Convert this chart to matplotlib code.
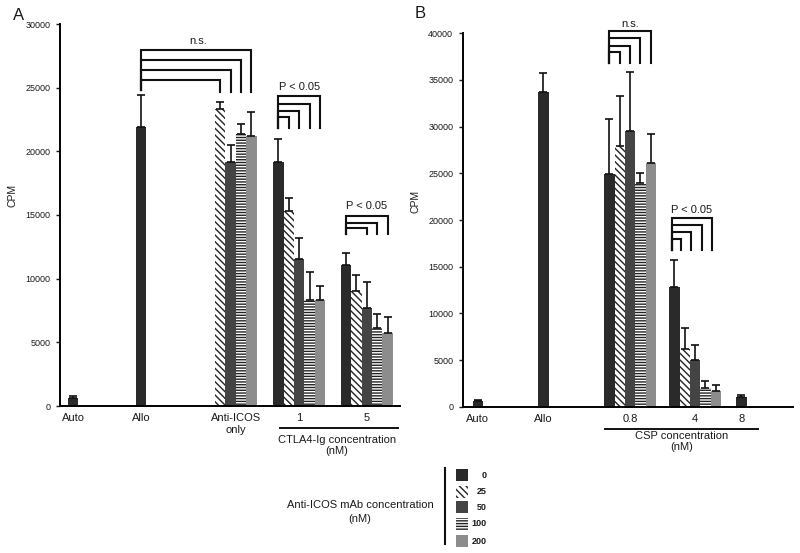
import matplotlib.pyplot as plt
from matplotlib.patches import Rectangle

plt.rcParams['font.family'] = ['Liberation Sans', 'DejaVu Sans']
plt.rcParams['hatch.linewidth'] = 1.0

# anti-ICOS mAb concentrations (nM) -> bar styles
doses = ['0', '25', '50', '100', '200']
fills = ['#2a2a2a', 'white', '#444444', 'white', '#8c8c8c']
hatches = [None, '\\\\\\\\\\', None, '------', None]

# ---- panel A data ----
a_labels = ['Auto', 'Allo', 'Anti-ICOS\nonly', '1', '5']
a_auto = [650]
a_auto_err = [130]
a_allo = [21900]
a_allo_err = [2500]
a_icos = [23300, 19150, 21400, 21200]          # 25, 50, 100, 200
a_icos_err = [550, 1350, 750, 1900]
a_ctla1 = [19200, 15350, 11550, 8300, 8300]     # 0..200
a_ctla1_err = [1800, 950, 1650, 2200, 1100]
a_ctla5 = [11100, 9050, 7700, 6150, 5750]
a_ctla5_err = [900, 1250, 2000, 1050, 1250]

# ---- panel B data ----
b_labels = ['Auto', 'Allo', '0.8', '4', '8']
b_auto = [650]
b_auto_err = [100]
b_allo = [33700]
b_allo_err = [2000]
b_csp08 = [24950, 27900, 29500, 24000, 26150]
b_csp08_err = [5850, 5400, 6350, 1000, 3050]
b_csp4 = [12850, 6150, 5000, 2050, 1700]
b_csp4_err = [2900, 2250, 1650, 700, 650]
b_csp8 = [1000]
b_csp8_err = [230]

TXT = '#1a1a1a'


def draw_group(ax, center, values, errs, idx):
    n = len(values)
    xs = [center + (i - (n - 1) / 2) for i in range(n)]
    for x, v, e, k in zip(xs, values, errs, idx):
        ax.bar(x, v, width=1.0, color=fills[k], hatch=hatches[k],
               edgecolor='#222222', linewidth=0, zorder=2)
        ax.errorbar(x, v, yerr=[[0], [e]], fmt='none', ecolor='#111111',
                    elinewidth=1.2, capsize=2.6, capthick=1.2, zorder=3)
    return xs


def bracket(ax, x0, x1, top, low, low_r=None):
    if low_r is None:
        low_r = low
    ax.plot([x0, x0, x1, x1], [low, top, top, low_r], color='#111111',
            lw=1.5, clip_on=False, solid_joinstyle='miter', zorder=4)


def style(ax, ymax, step, label_x):
    for s in ['top', 'right']:
        ax.spines[s].set_visible(False)
    ax.spines['left'].set_linewidth(1.4)
    ax.spines['bottom'].set_linewidth(1.4)
    ax.spines['left'].set_bounds(0, ymax)
    ax.set_ylim(0, ymax)
    ax.set_yticks(range(0, ymax + 1, step))
    ax.tick_params(axis='y', labelsize=6.5, length=3, width=1, colors=TXT, pad=4)
    ax.tick_params(axis='x', labelsize=8, length=0, pad=5, colors=TXT)
    ax.set_ylabel('CPM', fontsize=7.5, color=TXT)
    ax.yaxis.set_label_coords(label_x, 0.55)


fig = plt.figure(figsize=(8, 5.53), dpi=100)

# ===== panel A =====
axA = fig.add_axes([60 / 800, 147 / 553, 340 / 800, 382 / 553])
a_pos = [1.25, 7.8, 16.9, 23.0, 29.5]
draw_group(axA, a_pos[0], a_auto, a_auto_err, [0])
xs_allo = draw_group(axA, a_pos[1], a_allo, a_allo_err, [0])
xs_icos = draw_group(axA, a_pos[2], a_icos, a_icos_err, [1, 2, 3, 4])
xs_c1 = draw_group(axA, a_pos[3], a_ctla1, a_ctla1_err, [0, 1, 2, 3, 4])
xs_c5 = draw_group(axA, a_pos[4], a_ctla5, a_ctla5_err, [0, 1, 2, 3, 4])
axA.set_xlim(0, 32.7)
style(axA, 30000, 5000, -0.125)
axA.set_xticks(a_pos, a_labels)

# n.s. brackets Allo vs anti-ICOS only
for xe, top in zip(xs_icos, [25620, 26410, 27140, 27930]):
    bracket(axA, xs_allo[0], xe, top, 24840, 24630)
axA.text((xs_allo[0] + xs_icos[-1]) / 2 + 0.2, 28300, 'n.s.', ha='center',
         va='bottom', fontsize=8, color=TXT)
# P < 0.05, CTLA4-Ig 1 nM
for xe, top in zip(xs_c1[1:], [22690, 23190, 23710, 24310]):
    bracket(axA, xs_c1[0], xe, top, 21830)
axA.text(xs_c1[2], 24650, 'P < 0.05', ha='center', va='bottom', fontsize=8, color=TXT)
# P < 0.05, CTLA4-Ig 5 nM
for xe, top in zip(xs_c5[2:], [14010, 14410, 14960]):
    bracket(axA, xs_c5[0], xe, top, 13520)
axA.text(xs_c5[2], 15300, 'P < 0.05', ha='center', va='bottom', fontsize=8, color=TXT)

tr = axA.get_xaxis_transform()
axA.plot([21.2, 32.5], [-0.058, -0.058], color='#111111', lw=1.4,
         transform=tr, clip_on=False)
axA.text(26.6, -0.075, 'CTLA4-Ig concentration\n(nM)', transform=tr, ha='center',
         va='top', fontsize=8, color=TXT, linespacing=1.15)
fig.text(13 / 800, 1 - 16 / 553, 'A', fontsize=12, color=TXT, va='center')

# ===== panel B =====
axB = fig.add_axes([463 / 800, 146.3 / 553, 330 / 800, 373.4 / 553])
b_pos = [1.43, 7.8, 16.2, 22.5, 27.0]
draw_group(axB, b_pos[0], b_auto, b_auto_err, [0])
draw_group(axB, b_pos[1], b_allo, b_allo_err, [0])
xs_08 = draw_group(axB, b_pos[2], b_csp08, b_csp08_err, [0, 1, 2, 3, 4])
xs_4 = draw_group(axB, b_pos[3], b_csp4, b_csp4_err, [0, 1, 2, 3, 4])
draw_group(axB, b_pos[4], b_csp8, b_csp8_err, [0])
axB.set_xlim(0, 32)
style(axB, 40000, 5000, -0.13)
axB.set_xticks(b_pos, b_labels)

for xe, top in zip(xs_08[1:], [37950, 38660, 39450, 40240]):
    bracket(axB, xs_08[0], xe, top, 36780)
axB.text(xs_08[2], 40500, 'n.s.', ha='center', va='bottom', fontsize=8, color=TXT)
for xe, top in zip(xs_4[1:], [17990, 18680, 19430, 20180]):
    bracket(axB, xs_4[0] - 0.2, xe - 0.35, top, 16780)
axB.text(xs_4[2] - 0.3, 20550, 'P < 0.05', ha='center', va='bottom', fontsize=8, color=TXT)

trB = axB.get_xaxis_transform()
axB.plot([13.8, 28.6], [-0.059, -0.059], color='#111111', lw=1.4,
         transform=trB, clip_on=False)
axB.text(21.2, -0.064, 'CSP concentration\n(nM)', transform=trB, ha='center',
         va='top', fontsize=8, color=TXT, linespacing=1.15)
fig.text(415 / 800, 1 - 14 / 553, 'B', fontsize=12, color=TXT, va='center')

# ===== legend =====
leg = fig.add_axes([400 / 800, 0, 100 / 800, 100 / 553])
leg.set_xlim(400, 500)
leg.set_ylim(553, 453)
leg.axis('off')
leg.plot([445, 445], [468, 544], color='#111111', lw=1.5)
row_y = [475, 492, 507, 524, 541]
for k, (d, y) in enumerate(zip(doses, row_y)):
    leg.add_patch(Rectangle((456, y - 6), 12, 12, facecolor=fills[k],
                            hatch=hatches[k], edgecolor='#222222', linewidth=0))
    leg.text(487, y, d, ha='right', va='center', fontsize=6.5,
             fontweight='bold', color=TXT)
fig.text(360 / 800, 1 - 505 / 553, 'Anti-ICOS mAb concentration', ha='center',
         va='center', fontsize=8, color=TXT)
fig.text(360 / 800, 1 - 519 / 553, '(nM)', ha='center', va='center',
         fontsize=8, color=TXT)

fig.savefig('out.png', dpi=100)
